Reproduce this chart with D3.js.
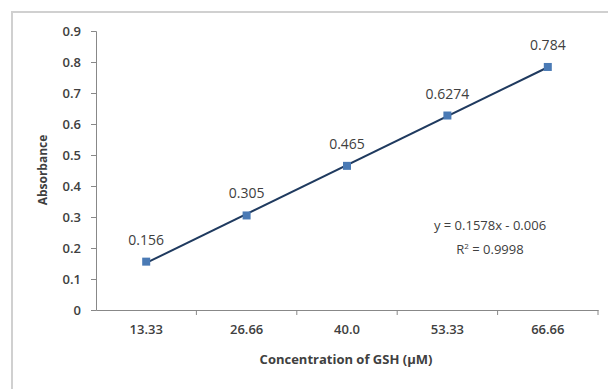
<!DOCTYPE html>
<html>
<head>
<meta charset="utf-8">
<script src="https://cdn.jsdelivr.net/npm/d3@7"></script>
<style>
  body { margin: 0; background: #fff; }
  text { font-family: "Open Sans", "Liberation Sans", sans-serif; fill: #404040; }
</style>
</head>
<body>
<div id="chart"></div>
<script>
// data
const categories = ["13.33", "26.66", "40.0", "53.33", "66.66"];
const absorbance = [0.156, 0.305, 0.465, 0.6274, 0.784];
const labels = ["0.156", "0.305", "0.465", "0.6274", "0.784"];
const yTicks = [0, 0.1, 0.2, 0.3, 0.4, 0.5, 0.6, 0.7, 0.8, 0.9];
const trendSlope = 0.1578, trendIntercept = -0.006;
const equationText = "y = 0.1578x - 0.006";
const r2Text = "0.9998";

const W = 608, H = 389;
const margin = { left: 96, right: 10, top: 31, bottom: 79 };
const innerW = 598 - margin.left;
const innerH = 310 - margin.top;

const svg = d3.select("#chart").append("svg")
    .attr("width", W)
    .attr("height", H);

// chart area border
svg.append("rect")
    .attr("x", 12).attr("y", 12)
    .attr("width", 620).attr("height", 400)
    .attr("fill", "none")
    .attr("stroke", "#d0d0d0")
    .attr("stroke-width", 2);

const g = svg.append("g")
    .attr("transform", `translate(${margin.left},${margin.top})`);

const x = d3.scaleBand()
    .domain(categories)
    .range([0, innerW]);

const y = d3.scaleLinear()
    .domain([0, 0.9])
    .range([innerH, 0]);

// y axis
const yAxis = g.append("g")
    .call(d3.axisLeft(y).tickValues(yTicks).tickFormat(d => d === 0 ? "0" : d3.format(".1f")(d)).tickSize(5).tickPadding(10));
yAxis.select(".domain").attr("stroke", "#888");
yAxis.selectAll(".tick line").attr("stroke", "#888");
yAxis.selectAll("text").style("font-size", "13px").style("font-weight", "600").attr("fill", "#444");

// x axis, ticks between categories
const xAxis = g.append("g")
    .attr("transform", `translate(0,${innerH})`)
    .call(d3.axisBottom(x).tickSize(0).tickPadding(15));
xAxis.select(".domain").attr("stroke", "#888");
xAxis.selectAll("text").style("font-size", "13px").style("font-weight", "600").attr("fill", "#444");
g.append("g")
    .selectAll("line")
    .data(categories)
    .join("line")
    .attr("x1", d => x(d) + x.bandwidth())
    .attr("x2", d => x(d) + x.bandwidth())
    .attr("y1", innerH)
    .attr("y2", innerH + 5)
    .attr("stroke", "#888");

// axis titles
svg.append("text")
    .attr("transform", "rotate(-90)")
    .attr("x", -170)
    .attr("y", 47)
    .attr("text-anchor", "middle")
    .style("font-size", "12px")
    .style("font-weight", "bold")
    .attr("fill", "#222")
    .text("Absorbance");

svg.append("text")
    .attr("x", 346)
    .attr("y", 364)
    .attr("text-anchor", "middle")
    .style("font-size", "13px")
    .style("font-weight", "bold")
    .attr("fill", "#222")
    .text("Concentration of GSH (µM)");

const cx = d => x(d) + x.bandwidth() / 2;

// linear trendline over category index 1..n
g.append("line")
    .attr("x1", cx(categories[0]))
    .attr("y1", y(trendSlope * 1 + trendIntercept))
    .attr("x2", cx(categories[categories.length - 1]))
    .attr("y2", y(trendSlope * categories.length + trendIntercept))
    .attr("stroke", "#1f3a5f")
    .attr("stroke-width", 2);

// markers
g.selectAll("rect.marker")
    .data(categories)
    .join("rect")
    .attr("class", "marker")
    .attr("x", (d, i) => cx(d) - 4)
    .attr("y", (d, i) => y(absorbance[i]) - 4)
    .attr("width", 8)
    .attr("height", 8)
    .attr("fill", "#4a7ab5");

// data labels
g.selectAll("text.lbl")
    .data(categories)
    .join("text")
    .attr("class", "lbl")
    .attr("x", d => cx(d))
    .attr("y", (d, i) => y(absorbance[i]) - 17)
    .attr("text-anchor", "middle")
    .style("font-size", "14px")
    .attr("fill", "#333")
    .text((d, i) => labels[i]);

// equation
const eq = svg.append("text")
    .attr("x", 490)
    .attr("y", 230)
    .attr("text-anchor", "middle")
    .style("font-size", "13px")
    .attr("fill", "#444");
eq.text(equationText);

const r2 = svg.append("text")
    .attr("x", 490)
    .attr("y", 254)
    .attr("text-anchor", "middle")
    .style("font-size", "13px")
    .attr("fill", "#444");
r2.append("tspan").text("R");
r2.append("tspan").attr("dy", -5).style("font-size", "8px").text("2");
r2.append("tspan").attr("dy", 5).text(" = " + r2Text);
</script>
</body>
</html>
